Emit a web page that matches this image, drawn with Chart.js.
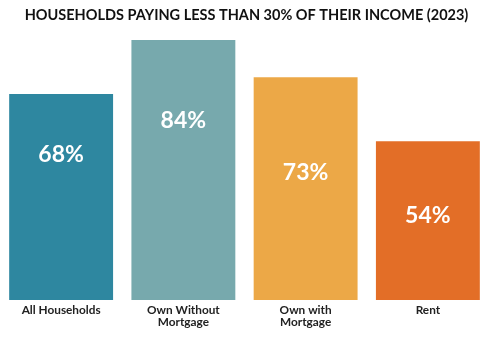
<!DOCTYPE html>
<html><head><meta charset="utf-8">
<script src="https://cdn.jsdelivr.net/npm/chart.js@4/dist/chart.umd.min.js"></script>
<style>html,body{margin:0;padding:0;background:#fff}#wrap{width:489px;height:361px}</style>
</head><body><div id="wrap"><canvas id="c"></canvas></div>
<script>
const categories = [["All Households"], ["Own Without", "Mortgage"], ["Own with", "Mortgage"], ["Rent"]];
const values = [68, 84, 73, 54];
const valueLabels = ["68%", "84%", "73%", "54%"];
const labelAt = [50, 60.3, 44.6, 32.1];
const colors = ["#2E87A0", "#77A9AD", "#ECA847", "#E36E27"];
const titleText = "HOUSEHOLDS PAYING LESS THAN 30% OF THEIR INCOME (2023)";

const labelPlugin = {
  id: 'valLabels',
  afterDatasetsDraw(chart) {
    const ctx = chart.ctx;
    const meta = chart.getDatasetMeta(0);
    const y = chart.scales.y;
    ctx.save();
    ctx.fillStyle = '#fff';
    ctx.font = 'bold 23px Lato';
    ctx.textAlign = 'center';
    ctx.textBaseline = 'middle';
    meta.data.forEach((bar, i) => {
      ctx.fillText(valueLabels[i], bar.x, y.getPixelForValue(labelAt[i]));
    });
    ctx.restore();
  }
};

new Chart(document.getElementById('c'), {
  type: 'bar',
  data: {
    labels: categories,
    datasets: [{ data: values, backgroundColor: colors, borderWidth: 0, barPercentage: 0.85, categoryPercentage: 1 }]
  },
  options: {
    responsive: true, maintainAspectRatio: false, animation: false,
    layout: { padding: { left: 0, right: -4, top: 0, bottom: 29 } },
    plugins: {
      legend: { display: false }, tooltip: { enabled: false },
      title: { display: true, text: titleText, color: '#111', font: { family: 'Lato', weight: 'bold', size: 14.5, lineHeight: 1.2 }, padding: { top: 7, bottom: 5.6 } }
    },
    scales: {
      x: { grid: { display: false, drawTicks: false }, border: { display: false },
           ticks: { color: '#222', padding: 4, font: { family: 'Lato', weight: 'bold', size: 11.8, lineHeight: 1.02 }, maxRotation: 0, autoSkip: false } },
      y: { display: false, min: 7, max: 87 }
    }
  },
  plugins: [labelPlugin]
});
</script></body></html>
